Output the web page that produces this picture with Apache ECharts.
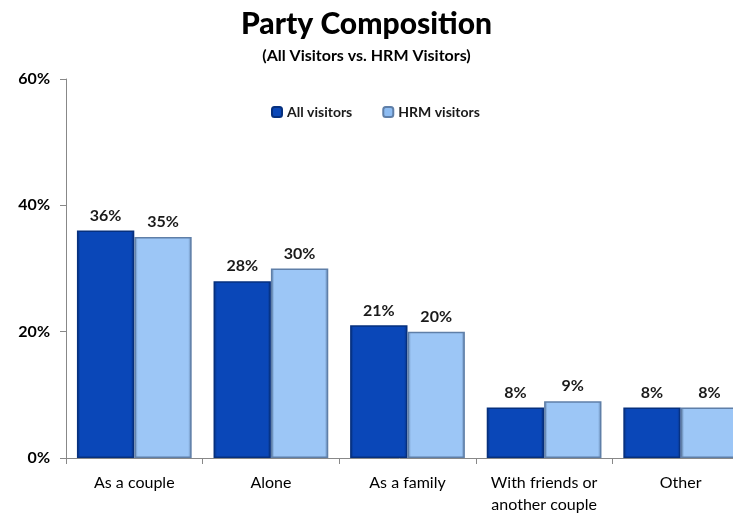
<!DOCTYPE html>
<html><head><meta charset="utf-8">
<script src="https://cdn.jsdelivr.net/npm/echarts@6/dist/echarts.min.js"></script>
<style>html,body{margin:0;padding:0;background:#fff}#c{width:733px;height:514px}</style>
</head><body><div id="c"></div>
<script>
const categories = ['As a couple', 'Alone', 'As a family', 'With friends or\nanother couple', 'Other'];
const allVisitors = [36, 28, 21, 8, 8];
const hrmVisitors = [35, 30, 20, 9, 8];
const seriesNames = ['All visitors', 'HRM visitors'];

const font = 'Lato, "Open Sans", sans-serif';
const chart = echarts.init(document.getElementById('c'));
function barSeries(name, data, color, border) {
  return {
    name: name, type: 'bar', data: data, barGap: '0%', barCategoryGap: '16%',
    itemStyle: {
      color: {type: 'linear', x: 0, y: 0, x2: 1, y2: 0, colorStops: [
        {offset: 0, color: border}, {offset: 0.06, color: color}, {offset: 0.94, color: color}, {offset: 1, color: border}]},
      borderColor: border, borderWidth: 1.5
    },
    label: {show: true, position: 'top', distance: 7, formatter: '{c}%', fontFamily: font, fontSize: 16, fontWeight: 'bold', color: '#1a1a1a'}
  };
}
chart.setOption({
  animation: false,
  title: [
    {text: 'Party Composition', left: 'center', top: 4, textStyle: {fontFamily: font, fontSize: 30, fontWeight: 900, color: '#000'}},
    {text: '(All Visitors vs. HRM Visitors)', left: 'center', top: 43, textStyle: {fontFamily: font, fontSize: 16, fontWeight: 'bold', color: '#000'}}
  ],
  legend: {
    top: 100, left: 266, itemWidth: 10, itemHeight: 10, itemGap: 30,
    textStyle: {fontFamily: font, fontSize: 14, fontWeight: 'bold', color: '#1a1a1a'},
    data: [{name: seriesNames[0], itemStyle: {color: '#0a47b8'}}, {name: seriesNames[1], itemStyle: {color: '#8dbcf2'}}]
  },
  grid: {left: 66, right: -16, top: 79, bottom: 56, outerBoundsMode: 'none', containLabel: false},
  xAxis: {
    type: 'category', data: categories,
    axisLine: {lineStyle: {color: '#888'}},
    axisTick: {show: true, interval: 0, length: 6, lineStyle: {color: '#888'}},
    axisLabel: {interval: 0, hideOverlap: false, fontFamily: font, fontSize: 16, color: '#000', margin: 14, lineHeight: 22}
  },
  yAxis: {
    type: 'value', min: 0, max: 60, interval: 20,
    axisLine: {show: true, lineStyle: {color: '#888'}},
    axisTick: {show: true, length: 6, lineStyle: {color: '#888'}},
    splitLine: {show: false},
    axisLabel: {formatter: '{value}%', fontFamily: font, fontSize: 16, fontWeight: 'bold', color: '#000', margin: 16}
  },
  series: [
    barSeries(seriesNames[0], allVisitors, '#0a47b8', '#06307e'),
    barSeries(seriesNames[1], hrmVisitors, '#9cc6f6', '#5f7fa8')
  ]
});
</script></body></html>
